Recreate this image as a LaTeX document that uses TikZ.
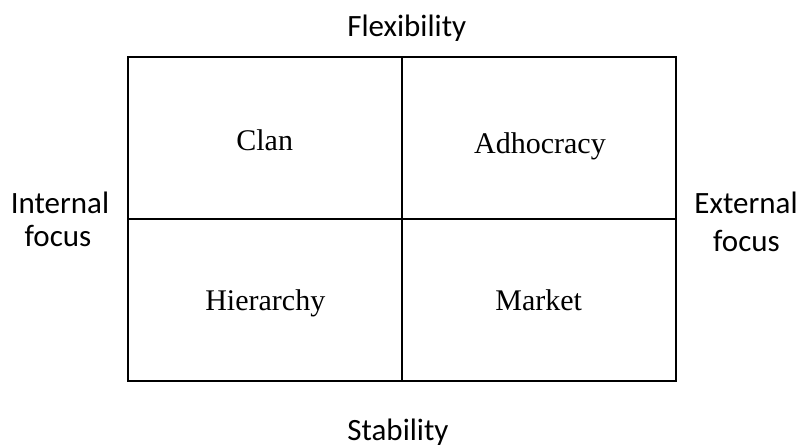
\documentclass[tikz,border=0pt]{standalone}
\usepackage{fontspec}
\setmainfont{Liberation Serif}
\newfontfamily\axisfont{Carlito}
\usetikzlibrary{positioning}

\tikzset{
	cell/.style={draw, line width=1.1pt, minimum width=137pt, minimum height=81pt, inner sep=0pt, outer sep=0pt},
	culture/.style={font=\fontsize{15}{18}\selectfont, anchor=base, inner sep=0pt},
	axis/.style={font=\axisfont\fontsize{15.5}{19}\selectfont, anchor=base, inner sep=0pt},
}

\begin{document}
\begin{tikzpicture}[x=0.5pt, y=-0.5pt]
	\useasboundingbox (0,0) rectangle (800,446);

	% the four quadrants
	\node[cell] (clan) at (264.7,137.7) {};
	\node[cell] (adhocracy) [right=0pt of clan]      {};
	\node[cell] (hierarchy) [below=0pt of clan]      {};
	\node[cell] (market)    [right=0pt of hierarchy] {};

	\node[culture] (clanname)      at (264.7,150)   {Clan};
	\node[culture] (adhocracyname) at (540,153)     {Adhocracy};
	\node[culture] (hierarchyname) at (265.3,310.7) {Hierarchy};
	\node[culture] (marketname)    at (538.7,310.7) {Market};

	% axes round the grid
	\node[axis, anchor=base west] (flex)  at (347,36.7) {Flexibility};
	\node[axis, anchor=base west] (stab)  at (347,440)  {Stability};
	\node[axis] (internal)  at (60,213)    {Internal};
	\node[axis] (internalf) at (58,246.7)  {focus};
	\node[axis] (external)  at (746,213)   {External};
	\node[axis] (externalf) at (746.5,251.7) {focus};
\end{tikzpicture}
\end{document}
